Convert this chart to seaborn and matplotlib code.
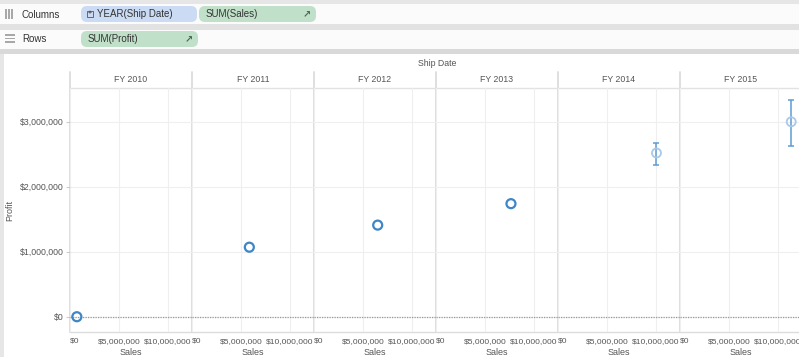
import pandas as pd
import seaborn as sns
import matplotlib.pyplot as plt
from matplotlib.patches import FancyBboxPatch, Rectangle

# values
years = ["FY 2010", "FY 2011", "FY 2012", "FY 2013", "FY 2014", "FY 2015"]
sales = [0.7e6, 5.85e6, 6.5e6, 7.65e6, 10.05e6, 11.35e6]
profit = [0.0, 1.07e6, 1.41e6, 1.74e6, 2.52e6, 3.0e6]
profit_low = [None, None, None, None, 2.33e6, 2.62e6]
profit_high = [None, None, None, None, 2.68e6, 3.34e6]
forecast = [False, False, False, False, True, True]

x_ticks = [0, 5e6, 10e6]
y_ticks = [0, 1e6, 2e6, 3e6]

df = pd.DataFrame({"year": years, "sales": sales, "profit": profit,
                   "low": profit_low, "high": profit_high, "forecast": forecast})


def money(v):
    return f"${v:,.0f}"


W, H = 799, 357
sns.set_theme(style="white")
plt.rcParams["font.family"] = ["Liberation Sans", "DejaVu Sans"]

fig = plt.figure(figsize=(W / 100, H / 100), dpi=100)

# background layer in pixel coords (shelves, panel borders)
bg = fig.add_axes([0, 0, 1, 1])
bg.set_xlim(0, W)
bg.set_ylim(H, 0)
bg.axis("off")

bg.add_patch(Rectangle((0, 0), W, 4, color="#e6e6e6", lw=0))
bg.add_patch(Rectangle((0, 4), W, 20, color="#fbfbfb", lw=0))
bg.add_patch(Rectangle((0, 24), W, 6, color="#e2e2e2", lw=0))
bg.add_patch(Rectangle((0, 30), W, 19, color="#fbfbfb", lw=0))
bg.add_patch(Rectangle((0, 49), W, 5, color="#d9d9d9", lw=0))
bg.add_patch(Rectangle((0, 54), 4, H - 54, color="#e6e6e6", lw=0))

# shelf icons
for k in range(3):
    bg.add_patch(Rectangle((5 + k * 3, 9), 1.5, 10, color="#a8a8a8", lw=0))
for k in range(3):
    bg.add_patch(Rectangle((5, 34 + k * 3.5), 10, 1.5, color="#a8a8a8", lw=0))
bg.text(22, 15, "Columns", fontsize=7, color="#333333", va="center")
bg.text(22, 39, "Rows", fontsize=7, color="#333333", va="center")

pills = [(81, 6, 116, "#cbdbf3", "YEAR(Ship Date)", False),
         (199, 6, 117, "#c1e0c9", "SUM(Sales)", True),
         (81, 31, 117, "#c1e0c9", "SUM(Profit)", True)]
for px, py, pw, pc, label, arrow in pills:
    bg.add_patch(FancyBboxPatch((px, py), pw, 16, boxstyle="round,pad=0,rounding_size=6",
                                fc=pc, ec="none"))
    if arrow:
        bg.text(px + 7, py + 8, label, fontsize=7, color="#333333", va="center")
        bg.text(px + pw - 9, py + 8, "\u2197", fontsize=7, color="#4a6a5a",
                va="center", ha="center", fontweight="bold", family="DejaVu Sans")
    else:
        bg.add_patch(Rectangle((px + 6, py + 5), 6, 6, fc="none", ec="#555555", lw=0.6))
        bg.text(px + 9, py + 8, "+", fontsize=5, color="#333333", va="center", ha="center")
        bg.text(px + 16, py + 8, label, fontsize=7, color="#333333", va="center")

left0, pw_, top, bottom = 70, 122, 88, 332
for i in range(len(years) + 1):
    x = left0 + pw_ * i
    bg.plot([x, x], [72, bottom], color="#dcdcdc", lw=1.3)
bg.plot([left0, W], [top, top], color="#e2e2e2", lw=1)
bg.plot([left0, W], [bottom, bottom], color="#dcdcdc", lw=1)
bg.text(437, 64, "Ship Date", fontsize=6.3, color="#555555", ha="center", va="center")

for i, yr in enumerate(years):
    x0 = left0 + pw_ * i
    bg.text(x0 + pw_ / 2, 80, yr, fontsize=6.3, color="#555555", ha="center", va="center")

    ax = fig.add_axes([x0 / W, (H - bottom) / H, pw_ / W, (bottom - top) / H], facecolor="none")
    sub = df[df["year"] == yr]
    act = sub[~sub["forecast"]]
    fc = sub[sub["forecast"]]
    if len(act):
        sns.scatterplot(data=act, x="sales", y="profit", ax=ax, s=42, marker="o",
                        facecolor="none", edgecolor="#3f86c6", linewidth=1.6, zorder=5)
    if len(fc):
        ax.errorbar(fc["sales"], fc["profit"],
                    yerr=[fc["profit"] - fc["low"], fc["high"] - fc["profit"]],
                    fmt="none", ecolor="#5e9bd2", elinewidth=1.1, capsize=2, capthick=1.1, zorder=4)
        sns.scatterplot(data=fc, x="sales", y="profit", ax=ax, s=42, marker="o",
                        facecolor="none", edgecolor="#a9c9ea", linewidth=1.3, zorder=5)

    ax.axhline(0, color="#9a9a9a", lw=0.9, ls=(0, (1, 1)), zorder=3)
    ax.set_xlim(0, 12.45e6)
    ax.set_ylim(-0.235e6, 3.52e6)
    ax.set_xticks(x_ticks)
    ax.set_xticklabels([money(v) for v in x_ticks])
    ax.set_yticks(y_ticks)
    ax.grid(True, color="#efefef", lw=0.8)
    ax.set_axisbelow(True)
    for s in ax.spines.values():
        s.set_visible(False)
    ax.tick_params(axis="x", length=0, pad=4, labelsize=6.0, labelcolor="#555555")
    ax.get_xticklabels()[0].set_horizontalalignment("left")
    ax.get_xticklabels()[0].set_x(0.15e6)
    ax.set_xlabel("Sales", fontsize=6.5, color="#555555")
    ax.xaxis.set_label_coords(0.5, (bottom - 348) / (bottom - top))
    if i == 0:
        ax.set_yticklabels([money(v) for v in y_ticks])
        ax.tick_params(axis="y", left=True, length=3, width=0.8, color="#cccccc", pad=1.5,
                       labelsize=6.3, labelcolor="#555555")
        ax.set_ylabel("Profit", fontsize=6.5, color="#555555")
        ax.yaxis.set_label_coords((14 - left0) / pw_, 0.5)
    else:
        ax.set_ylabel("")
        ax.tick_params(axis="y", left=False, labelleft=False)

fig.savefig("out.png", dpi=100)
